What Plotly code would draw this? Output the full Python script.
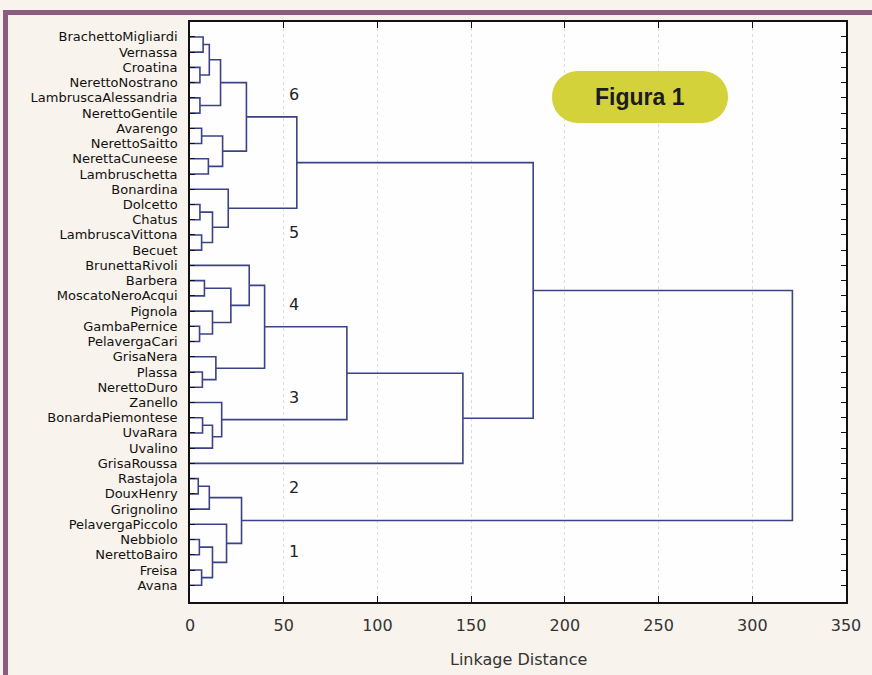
import plotly.graph_objects as go

# ---------------- data ----------------
leaf_labels = [
    "BrachettoMigliardi", "Vernassa", "Croatina", "NerettoNostrano",
    "LambruscaAlessandria", "NerettoGentile", "Avarengo", "NerettoSaitto",
    "NerettaCuneese", "Lambruschetta", "Bonardina", "Dolcetto", "Chatus",
    "LambruscaVittona", "Becuet", "BrunettaRivoli", "Barbera",
    "MoscatoNeroAcqui", "Pignola", "GambaPernice", "PelavergaCari",
    "GrisaNera", "Plassa", "NerettoDuro", "Zanello", "BonardaPiemontese",
    "UvaRara", "Uvalino", "GrisaRoussa", "Rastajola", "DouxHenry",
    "Grignolino", "PelavergaPiccolo", "Nebbiolo", "NerettoBairo", "Freisa",
    "Avana",
]

# merges (ids 0..36 are leaves, new clusters numbered from 37 in order)
merge_left = [0, 2, 37, 4, 39, 6, 8, 42, 41, 11, 13, 46, 10, 45,
              16, 19, 18, 51, 15, 22, 21, 55, 25, 59, 24, 58, 62, 50,
              29, 65, 33, 35, 67, 32, 66, 64]
merge_right = [1, 3, 38, 5, 40, 7, 9, 43, 44, 12, 14, 47, 48, 49,
               17, 20, 52, 53, 54, 23, 56, 57, 26, 27, 60, 61, 28, 63,
               30, 31, 34, 36, 68, 69, 70, 71]
merge_height = [7.0, 5.3, 10.3, 5.3, 16.3, 6.2, 9.8, 17.4, 30.1, 5.3, 6.2,
                12.0, 20.4, 57.0, 7.7, 5.1, 12.0, 21.8, 31.6, 6.6, 13.8,
                39.8, 6.7, 12.0, 16.9, 83.7, 145.6, 183.1, 4.4, 10.3, 5.0,
                6.2, 12.0, 19.5, 27.5, 321.4]

cluster_names = ["6", "5", "4", "3", "2", "1"]
x_ticks = [0, 50, 100, 150, 200, 250, 300, 350]

# ---------------- build dendrogram segments ----------------
n = len(leaf_labels)
pos = {i: float(i) for i in range(n)}
hgt = {i: 0.0 for i in range(n)}
xs, ys = [], []
for k, (a, b, h) in enumerate(zip(merge_left, merge_right, merge_height)):
    cid = n + k
    xs += [hgt[a], h, h, hgt[b], None]
    ys += [pos[a], pos[a], pos[b], pos[b], None]
    pos[cid] = (pos[a] + pos[b]) / 2
    hgt[cid] = h

fig = go.Figure()
fig.add_trace(go.Scatter(
    x=xs, y=ys, mode="lines",
    line=dict(color="#3b4386", width=1.6),
    hoverinfo="skip", showlegend=False, cliponaxis=False,
))

# ---------------- layout ----------------
W, H = 872, 675
L, R, T, B = 190, 26, 22, 73
PW, PH = W - L - R, H - T - B


def P(px, py):
    return (px - L) / PW, (H - B - py) / PH


shapes = []
# mauve outer frame (top and left bands)
x0, y0 = P(3, 10)
x1, y1 = P(880, 15)
shapes.append(dict(type="rect", xref="paper", yref="paper", x0=x0, y0=y0,
                   x1=x1, y1=y1, fillcolor="#8c5c7e", line=dict(width=0),
                   layer="above"))
x0, y0 = P(3, 10)
x1, y1 = P(8, 690)
shapes.append(dict(type="rect", xref="paper", yref="paper", x0=x0, y0=y0,
                   x1=x1, y1=y1, fillcolor="#8c5c7e", line=dict(width=0),
                   layer="above"))

# pill badge
bx0, bx1, by0, by1 = 552, 728, 71, 123
r = (by1 - by0) / 2
kk = 0.5523 * r


def pp(px, py):
    a, b = P(px, py)
    return f"{a:.5f},{b:.5f}"


path = (
    f"M {pp(bx0 + r, by0)} L {pp(bx1 - r, by0)} "
    f"C {pp(bx1 - r + kk, by0)} {pp(bx1, by0 + r - kk)} {pp(bx1, by0 + r)} "
    f"C {pp(bx1, by0 + r + kk)} {pp(bx1 - r + kk, by1)} {pp(bx1 - r, by1)} "
    f"L {pp(bx0 + r, by1)} "
    f"C {pp(bx0 + r - kk, by1)} {pp(bx0, by0 + r + kk)} {pp(bx0, by0 + r)} "
    f"C {pp(bx0, by0 + r - kk)} {pp(bx0 + r - kk, by0)} {pp(bx0 + r, by0)} Z"
)
shapes.append(dict(type="path", xref="paper", yref="paper", path=path,
                   fillcolor="#d3d23b", line=dict(width=0), layer="above"))

annotations = []
bcx, bcy = P((bx0 + bx1) / 2, (by0 + by1) / 2)
annotations.append(dict(
    xref="paper", yref="paper", x=bcx, y=bcy, text="<b>Figura 1</b>",
    showarrow=False, xanchor="center", yanchor="middle",
    font=dict(family="Liberation Sans, Arial", size=23, color="#1c1c1c"),
))

# cluster numbers
cluster_y = [3.8, 12.85, 17.6, 23.7, 29.6, 33.8]
for name, yy in zip(cluster_names, cluster_y):
    annotations.append(dict(
        xref="x", yref="y", x=55.5, y=yy, text=name, showarrow=False,
        xanchor="center", yanchor="middle",
        font=dict(family="DejaVu Sans", size=16, color="#222222"),
    ))

# axis title as annotation (keeps plot area fixed)
tx, ty = P(L + PW / 2, 659)
annotations.append(dict(
    xref="paper", yref="paper", x=tx, y=ty, text="Linkage Distance",
    showarrow=False, xanchor="center", yanchor="middle",
    font=dict(family="DejaVu Sans", size=16, color="#333333"),
))

fig.update_layout(
    width=W, height=H,
    margin=dict(l=L, r=R, t=T, b=B, pad=0, autoexpand=False),
    paper_bgcolor="#f8f3ec",
    plot_bgcolor="#fefefe",
    shapes=shapes,
    annotations=annotations,
    showlegend=False,
)

fig.update_xaxes(
    range=[0, 350], tickvals=x_ticks, ticktext=[str(v) for v in x_ticks],
    ticks="inside", ticklen=6, tickwidth=1.2, tickcolor="#111",
    showline=True, linecolor="#111", linewidth=1.6, mirror="ticks",
    showgrid=True, gridcolor="#dcdcdc", griddash="dot", gridwidth=1,
    zeroline=False, automargin=False,
    tickfont=dict(family="DejaVu Sans", size=16, color="#333333"),
    ticklabelstandoff=8,
)
fig.update_yaxes(
    range=[37.1, -0.98], tickvals=list(range(n)), ticktext=leaf_labels,
    ticks="inside", ticklen=5, tickwidth=1.2, tickcolor="#111",
    showline=True, linecolor="#111", linewidth=1.6, mirror="ticks",
    showgrid=False, zeroline=False, automargin=False,
    tickfont=dict(family="DejaVu Sans", size=13, color="#111111"),
    ticklabelstandoff=8,
)

fig.write_html(
    "out.html",
    config={"displayModeBar": False},
    post_script="document.body.style.margin='0px';"
                "document.body.style.overflow='hidden';",
)
